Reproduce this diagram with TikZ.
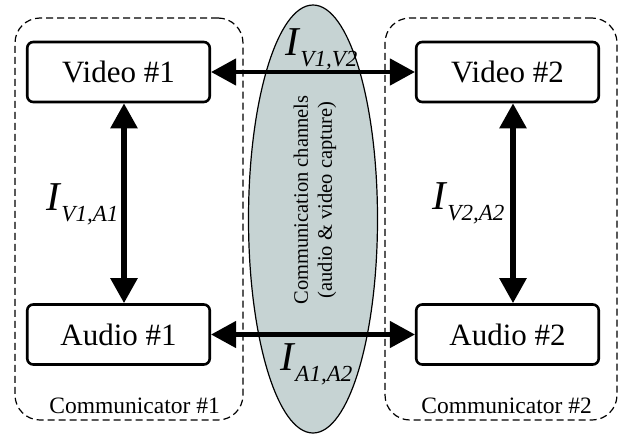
\documentclass[tikz,border=0pt]{standalone}
\usepackage{fontspec}
\setmainfont{Liberation Serif}
\usetikzlibrary{arrows.meta,shapes.geometric}
\definecolor{chanfill}{RGB}{198,211,211}
\tikzset{
  unitbox/.style={draw, line width=2.6pt, rounded corners=6pt, minimum width=182.5pt, minimum height=60pt, inner sep=0pt, font=\fontsize{31}{31}\selectfont},
  commbox/.style={draw, line width=1.2pt, dash pattern=on 7pt off 4pt, rounded corners=25pt, inner sep=0pt},
  biarrow/.style={{Triangle[length=25pt,width=26pt]}-{Triangle[length=25pt,width=26pt]}},
  commlabel/.style={anchor=base east, inner sep=0pt, font=\fontsize{23.5}{23.5}\selectfont},
}
\newcommand{\ilabel}[1]{{\fontsize{41}{41}\selectfont\textit{I}}\raisebox{-11pt}{\fontsize{23}{23}\selectfont\textit{#1}}}
\begin{document}
\begin{tikzpicture}[x=1pt,y=-1pt]
\useasboundingbox (0,0) rectangle (623,434);
% communicator frames
\node[commbox, minimum width=228pt, minimum height=402pt] (comm1) at (129,219) {};
\node[commbox, minimum width=232pt, minimum height=402pt] (comm2) at (501,219) {};
% channel ellipse
\node[ellipse, draw, line width=1.2pt, fill=chanfill, minimum width=129pt, minimum height=428pt, inner sep=0pt] (chan) at (313,219) {};
\node[rotate=90, align=center, font=\fontsize{20.5}{24}\selectfont, inner sep=0pt] (chantext) at (315,200) {Communication channels\\(audio \& video capture)};
% labels
\node[anchor=base west, inner sep=0pt] (ivv) at (285,55) {\ilabel{V1,V2}};
\node[anchor=base west, inner sep=0pt] (iva1) at (46,210) {\ilabel{V1,A1}};
\node[anchor=base west, inner sep=0pt] (iva2) at (432,209) {\ilabel{V2,A2}};
\node[anchor=base west, inner sep=0pt] (iaa) at (280,370) {\ilabel{A1,A2}};
\node[commlabel] (c1) at (220,413) {Communicator \#1};
\node[commlabel] (c2) at (592,413) {Communicator \#2};
% units
\node[unitbox, fill=white] (v1) at (118.5,72) {Video \#1};
\node[unitbox, fill=white] (v2) at (507.5,72) {Video \#2};
\node[unitbox, fill=white] (a1) at (118.5,334.5) {Audio \#1};
\node[unitbox, fill=white] (a2) at (507.5,334.5) {Audio \#2};
% arrows
\draw[biarrow, line width=4.5pt] (v1.east) -- (v2.west);
\draw[biarrow, line width=4.5pt] (a1.east) -- (a2.west);
\draw[biarrow, line width=5.5pt] ([xshift=5.5pt]v1.south) -- ([xshift=5.5pt]a1.north);
\draw[biarrow, line width=5.5pt] ([xshift=5.5pt]v2.south) -- ([xshift=5.5pt]a2.north);
\end{tikzpicture}
\end{document}
